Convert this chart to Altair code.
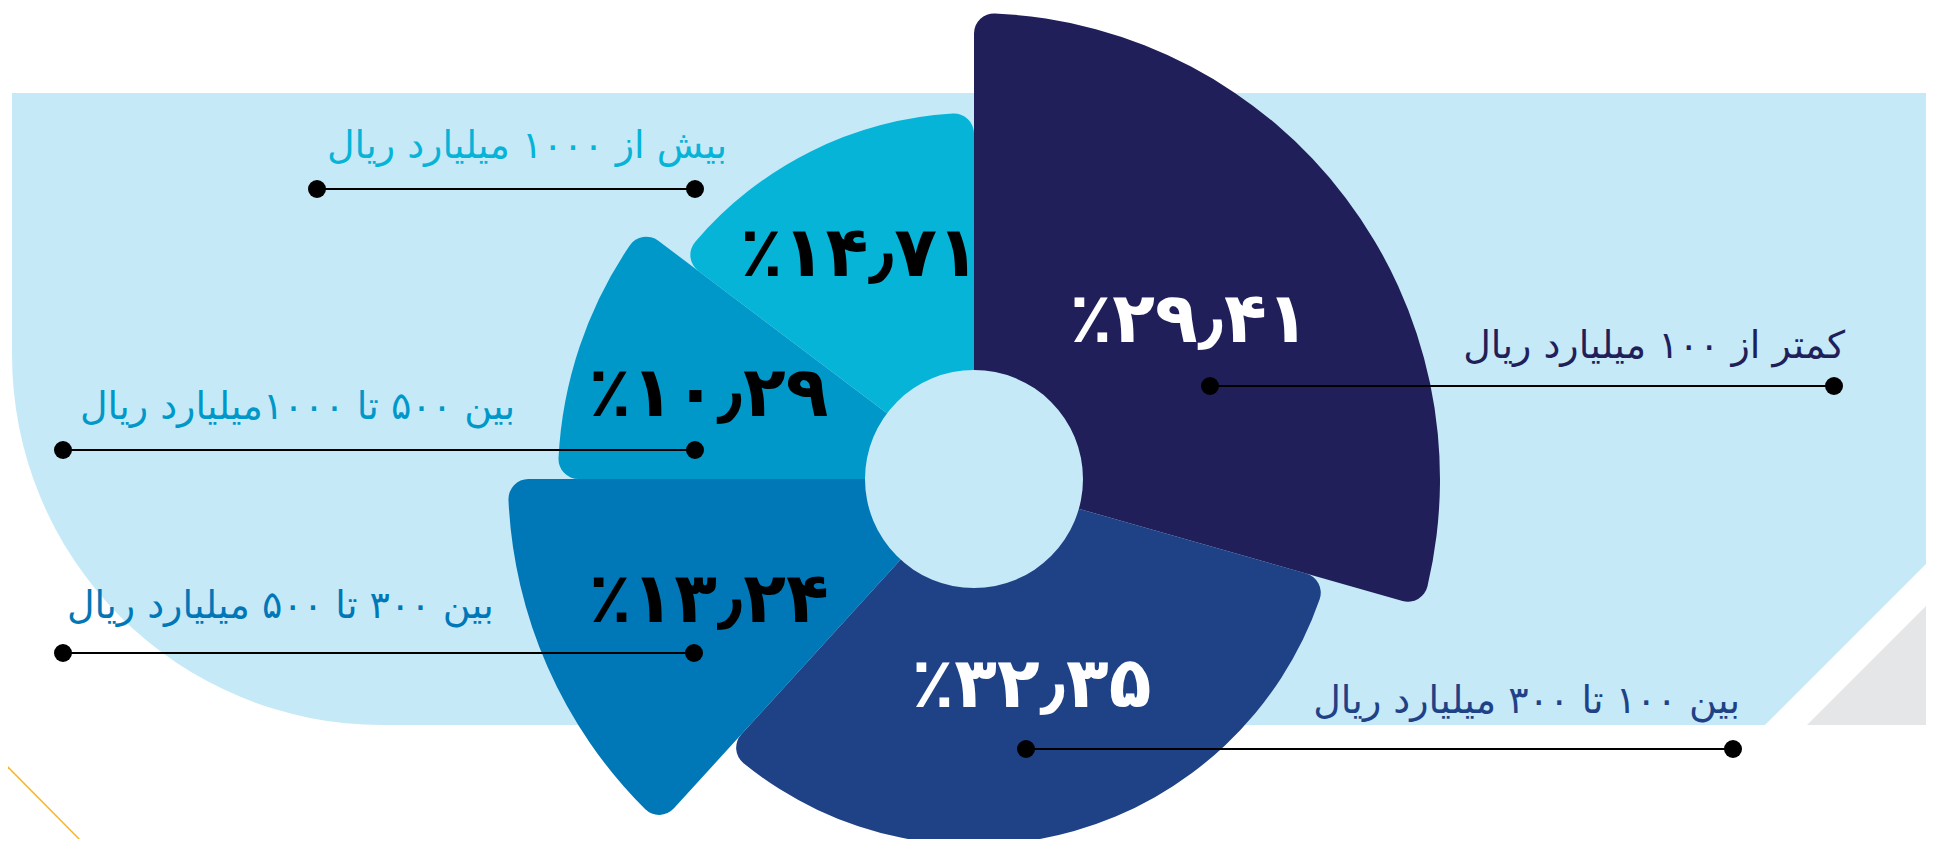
import math
import altair as alt
import pandas as pd

# ---------------- data ----------------
categories = [
    "کمتر از ۱۰۰ میلیارد ریال",
    "بین ۱۰۰ تا ۳۰۰ میلیارد ریال",
    "بین ۳۰۰ تا ۵۰۰ میلیارد ریال",
    "بین ۵۰۰ تا ۱۰۰۰میلیارد ریال",
    "بیش از ۱۰۰۰ میلیارد ریال",
]
shares = [29.41, 32.35, 13.24, 10.29, 14.71]
ring = [3, 1, 3, 2, 1]  # radial tier of each slice

# ---------------- styles ----------------
slice_colors = ["#211f5a", "#1f4287", "#0077b6", "#0098c9", "#06b4d8"]
pct_colors = ["white", "white", "black", "black", "black"]
BG = "#c6e9f8"

# ---------------- layout (pixels, chart coordinates) ----------------
CX, CY = 966, 471
label_r = [270, 210, 290, 280, 256]
label_x = [1837, 1732, 59, 72, 319]
label_y = [350, 705, 610, 411, 150]
label_side = ["right", "right", "left", "left", "left"]
line_x1 = [1202, 1018, 55, 55, 309]
line_x2 = [1826, 1725, 686, 687, 687]
line_y = [378, 741, 645, 442, 181]

FA = str.maketrans("0123456789", "۰۱۲۳۴۵۶۷۸۹")


def fa_pct(v):
    return "٪" + f"{v:.2f}".replace(".", "٫").translate(FA)


df = pd.DataFrame({
    "idx": list(range(len(categories))),
    "cat": categories,
    "share": shares,
    "ring": ring,
    "pct": [fa_pct(v) for v in shares],
    "pct_color": pct_colors,
    "lr": label_r,
    "lx": label_x,
    "ly": label_y,
    "side": label_side,
    "x1": line_x1,
    "x2": line_x2,
    "yl": line_y,
})
one = pd.DataFrame({"a": [0]})

color = alt.Color("cat:N", scale=alt.Scale(domain=categories, range=slice_colors), legend=None)
theta_scale = alt.Scale(domain=[0, 100], range=[0, 2 * math.pi])

# ---------------- background decoration ----------------
bg1 = alt.Chart(one).mark_rect(color=BG).encode(
    x=alt.value(4), x2=alt.value(1922), y=alt.value(85), y2=alt.value(348))
bg2 = alt.Chart(one).mark_rect(color=BG).encode(
    x=alt.value(373), x2=alt.value(1922), y=alt.value(346), y2=alt.value(717))
bg3 = alt.Chart(one).mark_arc(color=BG, theta=math.pi, theta2=1.5 * math.pi, radius=370).encode(
    x=alt.value(374), y=alt.value(347))
cut = alt.Chart(one).mark_point(shape="M1,1L1,-1L-1,1Z", filled=True, color="white",
                                opacity=1, size=167 * 167, strokeWidth=0).encode(
    x=alt.value(1840.5), y=alt.value(633.5))
grey = alt.Chart(one).mark_point(shape="M1,1L1,-1L-1,1Z", filled=True, color="#e5e6e8",
                                 opacity=1, size=125 * 125, strokeWidth=0).encode(
    x=alt.value(1861.5), y=alt.value(654.5))
yellow = alt.Chart(one).mark_rule(color="#f5b731", strokeWidth=1.5).encode(
    x=alt.value(-8), y=alt.value(751), x2=alt.value(79), y2=alt.value(839))

# ---------------- polar slices ----------------
base = alt.Chart(df)
stacked = base.transform_stack(
    stack="share", as_=["t0", "t1"], groupby=[], sort=[alt.SortField("idx", order="ascending")]
).transform_calculate(tm="(datum.t0 + datum.t1) / 2")

arcs = stacked.mark_arc(innerRadius=60, cornerRadius=20).encode(
    theta=alt.Theta("t0:Q", scale=theta_scale, stack=None),
    theta2="t1:Q",
    radius=alt.Radius("ring:Q", stack=None,
                      scale=alt.Scale(type="linear", domain=[1, 3], range=[366, 466], zero=False)),
    color=color,
    x=alt.value(CX), y=alt.value(CY),
)
hole = alt.Chart(one).mark_point(shape="circle", filled=True, color=BG, opacity=1,
                                 size=218 * 218, strokeWidth=0).encode(
    x=alt.value(CX), y=alt.value(CY))

pct_text = stacked.mark_text(font="DejaVu Sans", fontWeight="bold", fontSize=70,
                             align="center", baseline="alphabetic", dy=26).encode(
    theta=alt.Theta("tm:Q", scale=theta_scale, stack=None),
    radius=alt.Radius("lr:Q", scale=None, stack=None),
    text="pct:N",
    color=alt.Color("pct_color:N", scale=None),
    x=alt.value(CX), y=alt.value(CY),
)

# ---------------- leader lines & labels ----------------
lines = base.mark_rule(color="black", strokeWidth=2).encode(
    x=alt.X("x1:Q", scale=None, axis=None), x2="x2:Q",
    y=alt.Y("yl:Q", scale=None, axis=None))
dots1 = base.mark_point(shape="circle", filled=True, color="black", opacity=1, size=324).encode(
    x=alt.X("x1:Q", scale=None, axis=None), y=alt.Y("yl:Q", scale=None, axis=None))
dots2 = base.mark_point(shape="circle", filled=True, color="black", opacity=1, size=324).encode(
    x=alt.X("x2:Q", scale=None, axis=None), y=alt.Y("yl:Q", scale=None, axis=None))

lab_right = base.transform_filter(alt.datum.side == "right").mark_text(
    font="DejaVu Sans", fontSize=38, align="right", baseline="alphabetic").encode(
    x=alt.X("lx:Q", scale=None, axis=None), y=alt.Y("ly:Q", scale=None, axis=None),
    text="cat:N", color=color)
lab_left = base.transform_filter(alt.datum.side == "left").mark_text(
    font="DejaVu Sans", fontSize=38, align="left", baseline="alphabetic").encode(
    x=alt.X("lx:Q", scale=None, axis=None), y=alt.Y("ly:Q", scale=None, axis=None),
    text="cat:N", color=color)

chart = alt.layer(
    bg1, bg2, bg3, cut, grey, yellow, arcs, hole, pct_text,
    lines, dots1, dots2, lab_right, lab_left,
).properties(
    width=1918, height=831, padding=0, background="white",
    autosize=alt.AutoSizeParams(type="none"),
).configure_view(stroke=None)

chart.save("out.html", embed_options={"renderer": "svg", "actions": False})
